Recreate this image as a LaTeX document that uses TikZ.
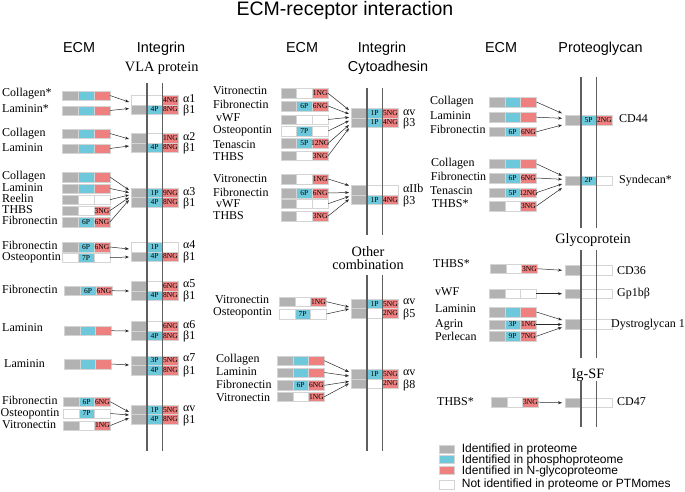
\documentclass[tikz,border=0pt]{standalone}
\usepackage{fontspec}
\setmainfont{Liberation Serif}
\newfontfamily\arialf{Liberation Sans}
\usetikzlibrary{arrows.meta,calc}
\definecolor{cgray}{RGB}{178,178,178}
\definecolor{ccyan}{RGB}{108,200,218}
\definecolor{cpink}{RGB}{238,128,128}
\definecolor{cellborder}{RGB}{212,212,212}
\definecolor{memline}{RGB}{95,95,95}
\definecolor{arrcol}{RGB}{40,40,40}
\tikzset{
 cell/.style={draw=cellborder,line width=0.4pt,minimum width=15.8pt,minimum height=9.5pt,inner sep=0pt,outer sep=0pt},
 fg/.style={fill=cgray}, fc/.style={fill=ccyan}, fp/.style={fill=cpink}, fw/.style={fill=white},
 lab/.style={font=\fontsize{12}{12}\selectfont,inner sep=0pt,anchor=west,text height=8pt,text depth=1pt},
 rlab/.style={font=\fontsize{12}{12}\selectfont,inner sep=0pt,anchor=west,text height=8pt,text depth=1pt},
 head/.style={font=\arialf\fontsize{14.4}{14.4}\selectfont,inner sep=0pt},
 shead/.style={font=\fontsize{14.3}{12.5}\selectfont,inner sep=0pt,align=center},
 arr/.style={draw=arrcol,line width=0.5pt,-{Stealth[length=4pt,width=3pt]}},
 mem/.style={draw=memline,line width=1.4pt},
 leg/.style={font=\arialf\fontsize{12}{12}\selectfont,inner sep=0pt,anchor=west,text height=8.5pt,text depth=1.5pt},
 legsq/.style={draw=cellborder,line width=0.4pt,minimum width=15pt,minimum height=8.5pt,inner sep=0pt},
}
\newcommand{\ctxt}[1]{\makebox[0pt]{\fontsize{7.5}{8}\selectfont #1}}
\newcommand{\ecmrow}[8]{%
  \node[cell,#4,anchor=west] (#1a) at (#2,#3) {};
  \node[cell,#5,anchor=west] (#1b) at (#1a.east) {\ctxt{#6}};
  \node[cell,#7,anchor=west] (#1c) at (#1b.east) {\ctxt{#8}};
}
\begin{document}
\begin{tikzpicture}[x=1pt,y=-1pt]
\useasboundingbox (0,0) rectangle (685,492);
% title and headers
\node[font=\arialf\fontsize{19.5}{19.5}\selectfont,inner sep=0pt] (title) at (345,10) {ECM-receptor interaction};
\node[head] (h1) at (79,47.5) {ECM};
\node[head] (h2) at (161,48.3) {Integrin};
\node[shead] (h3) at (161.7,68) {VLA protein};
\node[head] (h4) at (302,47.5) {ECM};
\node[head] (h5) at (382,48.3) {Integrin};
\node[head] (h6) at (388,68) {Cytoadhesin};
\node[head] (h7) at (501,47.5) {ECM};
\node[head] (h8) at (600.5,49) {Proteoglycan};

% ================= LEFT PANEL =================
% group 1
\node[lab] (t11) at (2,93) {Collagen*};
\node[lab] (t12) at (2,109) {Laminin*};
\ecmrow{e11}{62.5}{95.5}{fg}{fc}{}{fp}{}
\ecmrow{e12}{62.5}{110.5}{fg}{fc}{}{fp}{}
\ecmrow{A1}{131}{100}{fw}{fw}{}{fp}{4NG}
\ecmrow{B1}{131}{109.5}{fg}{fc}{4P}{fp}{8NG}
\node[rlab] (la1) at (183,99) {α1};
\node[rlab] (lb1) at (183,110) {β1};
\draw[arr] (e11c.east) -- ($(A1a.west)+(-2,2)$);
\draw[arr] (e12c.east) -- ($(A1a.west)+(-2,8.5)$);
% group 2
\node[lab] (t21) at (2,132.5) {Collagen};
\node[lab] (t22) at (2,147.5) {Laminin};
\ecmrow{e21}{62.5}{133.5}{fg}{fc}{}{fp}{}
\ecmrow{e22}{62.5}{148.5}{fg}{fc}{}{fp}{}
\ecmrow{A2}{131}{138}{fg}{fw}{}{fp}{1NG}
\ecmrow{B2}{131}{147.5}{fg}{fc}{4P}{fp}{8NG}
\node[rlab] (la2) at (183,137) {α2};
\node[rlab] (lb2) at (183,148) {β1};
\draw[arr] (e21c.east) -- ($(A2a.west)+(-2,1)$);
\draw[arr] (e22c.east) -- ($(A2a.west)+(-2,8)$);
% group 3
\node[lab] (t31) at (2,176) {Collagen};
\node[lab] (t32) at (2,187.5) {Laminin};
\node[lab] (t33) at (2,198.7) {Reelin};
\node[lab] (t34) at (2,209.7) {THBS};
\node[lab] (t35) at (2,221) {Fibronectin};
\ecmrow{e31}{62.5}{177}{fg}{fc}{}{fp}{}
\ecmrow{e32}{62.5}{188.5}{fg}{fc}{}{fp}{}
\ecmrow{e33}{62.5}{199.7}{fg}{fw}{}{fw}{}
\ecmrow{e34}{62.5}{210.7}{fg}{fw}{}{fp}{3NG}
\ecmrow{e35}{62.5}{222}{fg}{fc}{6P}{fp}{6NG}
\ecmrow{A3}{131}{192.8}{fg}{fc}{1P}{fp}{9NG}
\ecmrow{B3}{131}{202.3}{fg}{fc}{4P}{fp}{8NG}
\node[rlab] (la3) at (183,192) {α3};
\node[rlab] (lb3) at (183,203) {β1};
\draw[arr] (e31c.east) -- ($(A3a.west)+(-2,-2.8)$);
\draw[arr] (e32c.east) -- ($(A3a.west)+(-2,-0.3)$);
\draw[arr] (e33c.east) -- ($(A3a.west)+(-2,2.2)$);
\draw[arr] (e34c.east) -- ($(A3a.west)+(-2,4.7)$);
\draw[arr] (e35c.east) -- ($(A3a.west)+(-2,7.2)$);
% group 4
\node[lab] (t41) at (2,246) {Fibronectin};
\node[lab] (t42) at (2,257) {Osteopontin};
\ecmrow{e41}{62.5}{247}{fg}{fc}{6P}{fp}{6NG}
\ecmrow{e42}{62.5}{257.7}{fw}{fc}{7P}{fw}{}
\ecmrow{A4}{131}{247}{fw}{fc}{1P}{fw}{}
\ecmrow{B4}{131}{256.5}{fg}{fc}{4P}{fp}{8NG}
\node[rlab] (la4) at (183,245) {α4};
\node[rlab] (lb4) at (183,257) {β1};
\draw[arr] (e41c.east) -- ($(A4a.west)+(-2,2)$);
\draw[arr] (e42c.east) -- ($(A4a.west)+(-2,10)$);
% group 5
\node[lab] (t51) at (2,290) {Fibronectin};
\ecmrow{e51}{64.5}{290.7}{fg}{fc}{6P}{fp}{6NG}
\ecmrow{A5}{131}{286}{fg}{fw}{}{fp}{6NG}
\ecmrow{B5}{131}{295.5}{fg}{fc}{4P}{fp}{8NG}
\node[rlab] (la5) at (183,284) {α5};
\node[rlab] (lb5) at (183,296) {β1};
\draw[arr] (e51c.east) -- ($(A5a.west)+(-2,5)$);
% group 6
\node[lab] (t61) at (2,328) {Laminin};
\ecmrow{e61}{64}{330.7}{fg}{fc}{}{fp}{}
\ecmrow{A6}{131}{326.3}{fg}{fw}{}{fp}{6NG}
\ecmrow{B6}{131}{335.8}{fg}{fc}{4P}{fp}{8NG}
\node[rlab] (la6) at (183,325) {α6};
\node[rlab] (lb6) at (183,336) {β1};
\draw[arr] (e61c.east) -- ($(A6a.west)+(-2,4.7)$);
% group 7
\node[lab] (t71) at (4,364) {Laminin};
\ecmrow{e71}{64}{364}{fg}{fc}{}{fp}{}
\ecmrow{A7}{131}{360.5}{fg}{fc}{3P}{fp}{5NG}
\ecmrow{B7}{131}{370}{fg}{fc}{4P}{fp}{8NG}
\node[rlab] (la7) at (183,358) {α7};
\node[rlab] (lb7) at (183,371) {β1};
\draw[arr] (e71c.east) -- ($(A7a.west)+(-2,4.5)$);
% group 8
\node[lab] (t81) at (2,400.7) {Fibronectin};
\node[lab] (t82) at (0.5,413) {Osteopontin};
\node[lab] (t83) at (2,425) {Vitronectin};
\ecmrow{e81}{63}{401.8}{fg}{fc}{6P}{fp}{6NG}
\ecmrow{e82}{63}{413.5}{fw}{fc}{7P}{fw}{}
\ecmrow{e83}{63}{425.5}{fg}{fw}{}{fp}{1NG}
\ecmrow{A8}{131}{409.7}{fg}{fc}{1P}{fp}{5NG}
\ecmrow{B8}{131}{419.2}{fg}{fc}{4P}{fp}{8NG}
\node[rlab] (la8) at (183,408) {αv};
\node[rlab] (lb8) at (183,420) {β1};
\draw[arr] (e81c.east) -- ($(A8a.west)+(-2,2.3)$);
\draw[arr] (e82c.east) -- ($(A8a.west)+(-2,5.3)$);
\draw[arr] (e83c.east) -- ($(A8a.west)+(-2,8.3)$);
% membrane
\draw[mem] (146.8,83) -- (146.8,451);
\draw[mem] (162.6,83) -- (162.6,451);

% ================= MIDDLE PANEL =================
% alpha v beta 3
\node[lab] (u11) at (213,91.5) {Vitronectin};
\node[lab] (u12) at (213,105) {Fibronectin};
\node[lab] (u13) at (216,118.5) {vWF};
\node[lab] (u14) at (213,130.5) {Osteopontin};
\node[lab] (u15) at (213,144.5) {Tenascin};
\node[lab] (u16) at (213,157) {THBS};
\ecmrow{m11}{280.7}{93.3}{fg}{fw}{}{fp}{1NG}
\ecmrow{m12}{280.7}{106}{fg}{fc}{6P}{fp}{6NG}
\ecmrow{m13}{280.7}{119.5}{fg}{fw}{}{fw}{}
\ecmrow{m14}{280.7}{131}{fw}{fc}{7P}{fw}{}
\ecmrow{m15}{280.7}{143.3}{fg}{fc}{5P}{fp}{12NG}
\ecmrow{m16}{280.7}{155.8}{fg}{fw}{}{fp}{3NG}
\ecmrow{AM1}{351}{113}{fg}{fc}{1P}{fp}{5NG}
\ecmrow{BM1}{351}{122.5}{fg}{fc}{1P}{fp}{4NG}
\node[rlab] (lam1) at (403,112) {αv};
\node[rlab] (lbm1) at (403,123) {β3};
\draw[arr] (m11c.east) -- ($(AM1a.west)+(-2,-3)$);
\draw[arr] (m12c.east) -- ($(AM1a.west)+(-2,1)$);
\draw[arr] (m13c.east) -- ($(AM1a.west)+(-2,4.3)$);
\draw[arr] (m14c.east) -- ($(AM1a.west)+(-2,7.7)$);
\draw[arr] (m15c.east) -- ($(AM1a.west)+(-2,12)$);
\draw[arr] (m16c.east) -- ($(AM1a.west)+(-2,15.3)$);
% alpha IIb beta 3
\node[lab] (u21) at (213,178.7) {Vitronectin};
\node[lab] (u22) at (213,193) {Fibronectin};
\node[lab] (u23) at (216,204.3) {vWF};
\node[lab] (u24) at (213,215.7) {THBS};
\ecmrow{m21}{280.7}{179}{fg}{fw}{}{fp}{1NG}
\ecmrow{m22}{280.7}{193}{fg}{fc}{6P}{fp}{6NG}
\ecmrow{m23}{280.7}{203.7}{fg}{fw}{}{fw}{}
\ecmrow{m24}{280.7}{216}{fg}{fw}{}{fp}{3NG}
\ecmrow{AM2}{351}{190.3}{fg}{fw}{}{fw}{}
\ecmrow{BM2}{351}{199.8}{fg}{fc}{1P}{fp}{4NG}
\node[rlab] (lam2) at (403,189) {αIIb};
\node[rlab] (lbm2) at (403,201) {β3};
\draw[arr] (m21c.east) -- ($(AM2a.west)+(-2,-4.8)$);
\draw[arr] (m22c.east) -- ($(AM2a.west)+(-2,2.2)$);
\draw[arr] (m23c.east) -- ($(AM2a.west)+(-2,6.2)$);
\draw[arr] (m24c.east) -- ($(AM2a.west)+(-2,9)$);
% other combination
\node[shead,font=\fontsize{14.3}{13.5}\selectfont] (oc) at (368,258) {Other\\combination};
% alpha v beta 5
\node[lab] (u31) at (215,300) {Vitronectin};
\node[lab] (u32) at (213,311.7) {Osteopontin};
\ecmrow{m31}{279}{301.7}{fg}{fw}{}{fp}{1NG}
\ecmrow{m32}{279}{314}{fw}{fc}{7P}{fw}{}
\ecmrow{AM3}{351}{303.7}{fg}{fc}{1P}{fp}{5NG}
\ecmrow{BM3}{351}{313.2}{fg}{fw}{}{fp}{2NG}
\node[rlab] (lam3) at (403,301) {αv};
\node[rlab] (lbm3) at (403,314) {β5};
\draw[arr] (m31c.east) -- ($(AM3a.west)+(-2,3.3)$);
\draw[arr] (m32c.east) -- ($(AM3a.west)+(-2,5.3)$);
% alpha v beta 8
\node[lab] (u41) at (216,359.3) {Collagen};
\node[lab] (u42) at (216,371.7) {Laminin};
\node[lab] (u43) at (216,385) {Fibronectin};
\node[lab] (u44) at (216,398.3) {Vitronectin};
\ecmrow{m41}{277}{360.7}{fg}{fc}{}{fp}{}
\ecmrow{m42}{277}{372.5}{fg}{fc}{}{fp}{}
\ecmrow{m43}{277}{385.3}{fg}{fc}{6P}{fp}{6NG}
\ecmrow{m44}{277}{396.7}{fg}{fw}{}{fp}{1NG}
\ecmrow{AM4}{351}{374}{fg}{fc}{1P}{fp}{5NG}
\ecmrow{BM4}{351}{383.5}{fg}{fw}{}{fp}{2NG}
\node[rlab] (lam4) at (403,372) {αv};
\node[rlab] (lbm4) at (403,385) {β8};
\draw[arr] (m41c.east) -- ($(AM4a.west)+(-2,-2)$);
\draw[arr] (m42c.east) -- ($(AM4a.west)+(-2,2)$);
\draw[arr] (m43c.east) -- ($(AM4a.west)+(-2,7.5)$);
\draw[arr] (m44c.east) -- ($(AM4a.west)+(-2,9.5)$);
% membrane
\draw[mem] (366.8,88) -- (366.8,235);
\draw[mem] (382.6,88) -- (382.6,235);
\draw[mem] (366.8,275) -- (366.8,451);
\draw[mem] (382.6,275) -- (382.6,451);

% ================= RIGHT PANEL =================
% CD44
\node[lab] (v11) at (430,101) {Collagen};
\node[lab] (v12) at (430,116) {Laminin};
\node[lab] (v13) at (430,130) {Fibronectin};
\ecmrow{q11}{489}{102}{fg}{fc}{}{fp}{}
\ecmrow{q12}{489}{117.2}{fg}{fc}{}{fp}{}
\ecmrow{q13}{489}{131.8}{fg}{fc}{6P}{fp}{6NG}
\ecmrow{R1}{565}{120}{fg}{fc}{5P}{fp}{2NG}
\node[rlab] (lr1) at (619,119) {CD44};
\draw[arr] (q11c.east) -- ($(R1a.west)+(-3,-6.7)$);
\draw[arr] (q12c.east) -- ($(R1a.west)+(-3,-1.7)$);
\draw[arr] (q13c.east) -- ($(R1a.west)+(-3,5)$);
% Syndecan
\node[lab] (v21) at (431,163) {Collagen};
\node[lab] (v22) at (430.7,176.7) {Fibronectin};
\node[lab] (v23) at (430,191) {Tenascin};
\node[lab] (v24) at (431.7,204.3) {THBS*};
\ecmrow{q21}{489}{163.8}{fg}{fc}{}{fp}{}
\ecmrow{q22}{489}{178}{fg}{fc}{6P}{fp}{6NG}
\ecmrow{q23}{489}{192.7}{fg}{fc}{5P}{fp}{12NG}
\ecmrow{q24}{489}{206}{fg}{fw}{}{fp}{3NG}
\ecmrow{R2}{565}{180.5}{fg}{fc}{2P}{fw}{}
\node[rlab] (lr2) at (619,180) {Syndecan*};
\draw[arr] (q21c.east) -- ($(R2a.west)+(-3,-4.8)$);
\draw[arr] (q22c.east) -- ($(R2a.west)+(-3,-1.2)$);
\draw[arr] (q23c.east) -- ($(R2a.west)+(-3,3.5)$);
\draw[arr] (q24c.east) -- ($(R2a.west)+(-3,7.5)$);
% Glycoprotein
\node[shead] (gp) at (593,240) {Glycoprotein};
\node[lab] (v31) at (433,264) {THBS*};
\ecmrow{q31}{490}{268.7}{fg}{fw}{}{fp}{3NG}
\ecmrow{R3}{565}{270.3}{fg}{fw}{}{fw}{}
\node[rlab] (lr3) at (617,270.7) {CD36};
\draw[arr] (q31c.east) -- ($(R3a.west)+(-3,0)$);
\node[lab] (v32) at (435,291.7) {vWF};
\ecmrow{q32}{489}{293.7}{fg}{fw}{}{fw}{}
\ecmrow{R4}{565}{293.7}{fg}{fw}{}{fw}{}
\node[rlab] (lr4) at (617,293) {Gp1bβ};
\draw[arr] (q32c.east) -- ($(R4a.west)+(-3,0)$);
\node[lab] (v33) at (435,309.3) {Laminin};
\node[lab] (v34) at (435,324.3) {Agrin};
\node[lab] (v35) at (435,336.7) {Perlecan};
\ecmrow{q33}{489}{312}{fg}{fc}{}{fp}{}
\ecmrow{q34}{489}{324.5}{fg}{fc}{3P}{fp}{1NG}
\ecmrow{q35}{489}{336.3}{fg}{fc}{9P}{fp}{7NG}
\ecmrow{R5}{565}{324}{fg}{fw}{}{fw}{}
\node[rlab] (lr5) at (611,324) {Dystroglycan 1};
\draw[arr] (q33c.east) -- ($(R5a.west)+(-3,-4)$);
\draw[arr] (q34c.east) -- ($(R5a.west)+(-3,0.5)$);
\draw[arr] (q35c.east) -- ($(R5a.west)+(-3,3.3)$);
% Ig-SF
\node[shead] (ig) at (588,375) {Ig-SF};
\node[lab] (v41) at (437,401.7) {THBS*};
\ecmrow{q41}{491}{402.2}{fg}{fw}{}{fp}{3NG}
\ecmrow{R6}{565}{402.8}{fg}{fw}{}{fw}{}
\node[rlab] (lr6) at (617,402) {CD47};
\draw[arr] (q41c.east) -- ($(R6a.west)+(-3,0)$);
% membrane
\draw[mem] (580.8,77) -- (580.8,228);
\draw[mem] (596.6,77) -- (596.6,228);
\draw[mem] (580.8,250) -- (580.8,358);
\draw[mem] (596.6,250) -- (596.6,358);
\draw[mem] (580.8,381) -- (580.8,427);
\draw[mem] (596.6,381) -- (596.6,427);

% ================= LEGEND =================
\node[legsq,fill=cgray] (k1) at (446.7,449.2) {};
\node[legsq,fill=ccyan] (k2) at (446.7,459.2) {};
\node[legsq,fill=cpink] (k3) at (446.7,470) {};
\node[legsq,fill=white] (k4) at (446.7,484.6) {};
\node[leg] (kt1) at (461.7,449.3) {Identified in proteome};
\node[leg] (kt2) at (461.7,460) {Identified in phosphoproteome};
\node[leg] (kt3) at (461.7,471) {Identified in N-glycoproteome};
\node[leg] (kt4) at (461.7,484.3) {Not identified in proteome or PTMomes};
\end{tikzpicture}
\end{document}
